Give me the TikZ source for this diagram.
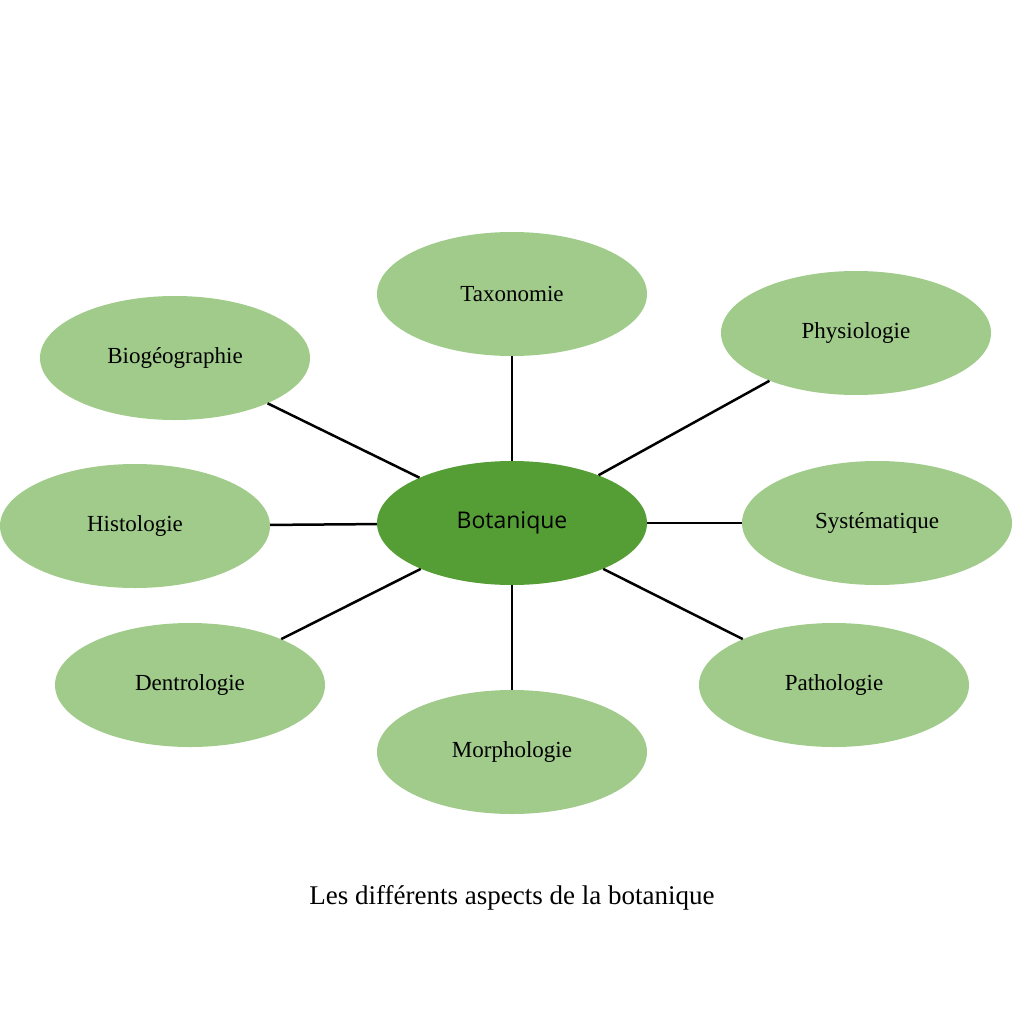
\documentclass[tikz,border=0pt]{standalone}
\usepackage{fontspec}
\setmainfont{Liberation Serif}
\newfontfamily\labelsans{Open Sans}
\usetikzlibrary{shapes.geometric}
\definecolor{leafgreen}{HTML}{A0CB8A}
\definecolor{stemgreen}{HTML}{559E35}
\tikzset{
  aspect/.style={ellipse, fill=leafgreen, minimum width=270pt, minimum height=124pt, inner sep=0pt, font=\fontsize{23}{27}\selectfont},
  core/.style={ellipse, fill=stemgreen, minimum width=270pt, minimum height=124pt, inner sep=0pt, font=\labelsans\fontsize{23}{27}\selectfont},
  link/.style={draw=black, line width=2.5pt}
}
\begin{document}
\begin{tikzpicture}[x=1pt,y=-1pt]
\useasboundingbox (0,0) rectangle (1024,1024);
\node[core] (Bot) at (512,523) {Botanique};
\node[aspect] (Tax) at (512,294) {Taxonomie};
\node[aspect] (Phy) at (856,333) {Physiologie};
\node[aspect] (Bio) at (175,358) {Biogéographie};
\node[aspect] (His) at (135,526) {Histologie};
\node[aspect] (Sys) at (877,523) {Systématique};
\node[aspect] (Den) at (190,685) {Dentrologie};
\node[aspect] (Pat) at (834,685) {Pathologie};
\node[aspect] (Mor) at (512,752) {Morphologie};
\draw[link] (Bot) -- (Tax);
\draw[link] (Bot) -- (Phy);
\draw[link] (Bot) -- (Bio);
\draw[link] (Bot) -- (His);
\draw[link] (Bot) -- (Sys);
\draw[link] (Bot) -- (Den);
\draw[link] (Bot) -- (Pat);
\draw[link] (Bot) -- (Mor);
\node[font=\fontsize{27}{32}\selectfont] (Cap) at (512,898) {Les différents aspects de la botanique};
\end{tikzpicture}
\end{document}
